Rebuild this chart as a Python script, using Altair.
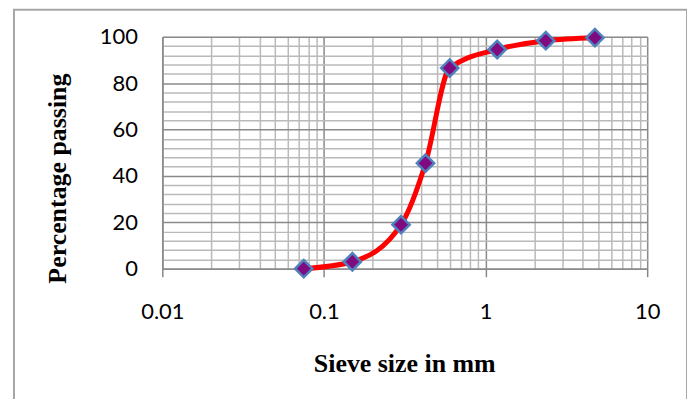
import altair as alt
import pandas as pd

sieve_mm = [0.075, 0.15, 0.3, 0.425, 0.6, 1.18, 2.36, 4.75]
passing = [0.0, 3.0, 19.0, 45.5, 86.5, 94.5, 98.3, 99.6]

x_ticks = sorted(set([round(m * d, 6) for d in [0.01, 0.1, 1] for m in range(1, 10)] + [10]))
y_ticks = list(range(0, 101, 4))

df = pd.DataFrame({"size": sieve_mm, "pass": passing})

major_x_test = "indexof([0.01, 0.1, 1, 10], datum.value) >= 0"
major_y_test = "datum.value % 20 === 0"

x_enc = alt.X(
    "size:Q",
    scale=alt.Scale(type="log", domain=[0.01, 10], nice=False),
    axis=alt.Axis(
        values=x_ticks,
        title="Sieve size in mm",
        format="~g",
        labelExpr=f"{major_x_test} ? datum.label : ''",
        labelFont="Lato",
        labelFontSize=22,
        labelColor="#000000",
        labelPadding=25,
        labelBaseline="top",
        labelFlush=False,
        labelOverlap=False,
        ticks=True,
        tickSize=8,
        tickWidth=1.5,
        tickColor={"condition": {"test": major_x_test, "value": "#888888"}, "value": "rgba(0,0,0,0)"},
        grid=True,
        gridColor={"condition": {"test": major_x_test, "value": "#8a8a8a"}, "value": "#bababa"},
        gridWidth=1.5,
        domainColor="#8a8a8a",
        domainWidth=1.5,
        titleFont="Liberation Serif",
        titleFontWeight="bold",
        titleFontSize=26,
        titleColor="#000000",
        titleX=243,
        titleY=103,
        titleAlign="center",
        titleBaseline="alphabetic",
    ),
)

y_enc = alt.Y(
    "pass:Q",
    scale=alt.Scale(domain=[0, 100], nice=False),
    axis=alt.Axis(
        values=y_ticks,
        title="Percentage passing",
        labelExpr=f"{major_y_test} ? datum.label : ''",
        labelFont="Lato",
        labelFontSize=22,
        labelColor="#000000",
        labelPadding=25,
        labelOverlap=False,
        ticks=False,
        grid=True,
        gridColor={"condition": {"test": major_y_test, "value": "#8a8a8a"}, "value": "#bababa"},
        gridWidth=1.5,
        domainColor="#8a8a8a",
        domainWidth=1.5,
        titleFont="Liberation Serif",
        titleFontWeight="bold",
        titleFontSize=26,
        titleColor="#000000",
        titleAngle=-90,
        titleX=-97,
        titleY=142,
        titleAlign="center",
        titleBaseline="alphabetic",
    ),
)

base = alt.Chart(df).encode(x=x_enc, y=y_enc)

line = base.mark_line(color="#ff0000", strokeWidth=5, interpolate="monotone")

pts = base.mark_point(
    shape="diamond", size=300, filled=True, fill="#800a80", stroke="#4f81bd",
    strokeWidth=2.5, opacity=1
)

frame = alt.Chart(pd.DataFrame({"a": [0]})).mark_rect(
    fill=None, stroke="#a6a6a6", strokeWidth=2
).encode(
    x=alt.value(-149), x2=alt.value(527), y=alt.value(-27), y2=alt.value(380)
)

chart = alt.layer(line, pts, frame).properties(
    width=487,
    height=233,
    autosize=alt.AutoSizeParams(type="none"),
    padding={"left": 155, "top": 28, "right": 40, "bottom": 130},
).configure_view(stroke=None).configure(background="white")

chart.save("out.html", embed_options={"renderer": "svg", "actions": False})
